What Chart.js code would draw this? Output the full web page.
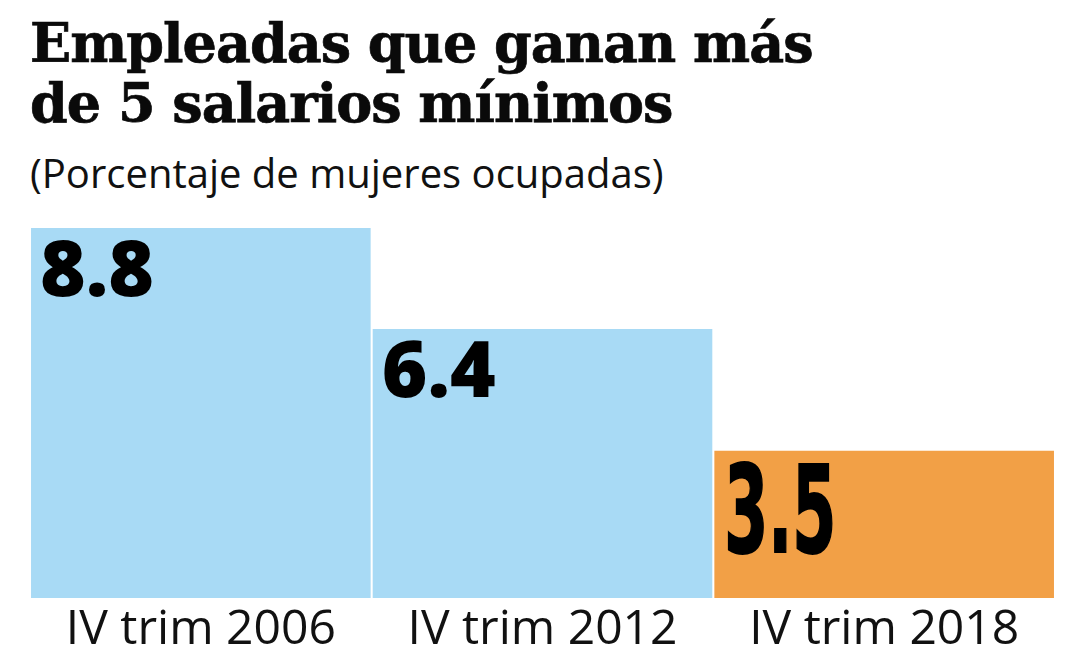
<!doctype html>
<html>
<head>
<meta charset="utf-8">
<title>Empleadas que ganan más de 5 salarios mínimos</title>
<script src="https://cdn.jsdelivr.net/npm/chart.js@4.4.1/dist/chart.umd.min.js"></script>
<style>
  * { box-sizing: border-box; }
  html, body { margin: 0; padding: 0; background: #ffffff; }
  body { width: 1081px; height: 666px; position: relative; overflow: hidden; }
  .title {
    position: absolute; left: 30px; top: 13px;
    font-family: "DejaVu Serif", serif; font-weight: 700;
    font-size: 54px; line-height: 60px; color: #0a0a0a;
    letter-spacing: -1px;
    -webkit-text-stroke: 0.7px #0a0a0a;
    white-space: nowrap;
  }
  .subtitle {
    position: absolute; left: 30px; top: 148px;
    font-family: "Open Sans", sans-serif; font-size: 40px; line-height: 50px;
    color: #111111; white-space: nowrap;
  }
  #wrap { position: absolute; left: 0; top: 0; width: 1081px; height: 666px; }
</style>
</head>
<body>
  <div class="title">Empleadas que ganan más<br>de 5 salarios mínimos</div>
  <div class="subtitle">(Porcentaje de mujeres ocupadas)</div>
  <div id="wrap"><canvas id="chart" width="1081" height="666"></canvas></div>

  <script>
    const categories = ['IV trim 2006', 'IV trim 2012', 'IV trim 2018'];
    const values = [8.8, 6.4, 3.5];
    const valueLabels = ['8.8', '6.4', '3.5'];
    const barColors = ['#a8daf5', '#a8daf5', '#f2a046'];

    // Big numbers drawn inside the top-left corner of each bar.
    // The last one uses a tall condensed face, as in the original.
    const insideLabels = {
      id: 'insideLabels',
      afterDatasetsDraw(chart) {
        const ctx = chart.ctx;
        const meta = chart.getDatasetMeta(0);
        meta.data.forEach((bar, i) => {
          const left = bar.x - bar.width / 2;
          ctx.save();
          ctx.fillStyle = '#000000';
          ctx.textAlign = 'left';
          ctx.textBaseline = 'alphabetic';
          if (i === values.length - 1) {
            ctx.font = 'bold 121px "Liberation Sans Narrow", "DejaVu Sans Condensed", sans-serif';
            const w = ctx.measureText(valueLabels[i]).width;
            const sx = 112 / w;
            ctx.translate(left + 10, bar.y + 101);
            ctx.scale(sx, 1);
            ctx.lineWidth = 2;
            ctx.strokeStyle = '#000000';
            ctx.strokeText(valueLabels[i], 0, 0);
            ctx.fillText(valueLabels[i], 0, 0);
          } else {
            ctx.font = '800 78px "Open Sans", sans-serif';
            ctx.fillText(valueLabels[i], left + 9, bar.y + 68);
          }
          ctx.restore();
        });
      }
    };

    new Chart(document.getElementById('chart'), {
      type: 'bar',
      data: {
        labels: categories,
        datasets: [{
          data: values,
          backgroundColor: barColors,
          borderWidth: 0,
          categoryPercentage: 1,
          barPercentage: 0.994
        }]
      },
      options: {
        responsive: false,
        animation: false,
        layout: { padding: { top: 228, left: 30, right: 26, bottom: 0 } },
        plugins: { legend: { display: false }, tooltip: { enabled: false } },
        scales: {
          y: { display: false, min: 0, max: 8.8 },
          x: {
            grid: { display: false, drawTicks: false },
            border: { display: false },
            afterFit(scale) { scale.height = 68; },
            ticks: {
              color: '#111111',
              padding: 4,
              font: { family: '"Open Sans", sans-serif', size: 48 }
            }
          }
        }
      },
      plugins: [insideLabels]
    });
  </script>
</body>
</html>
